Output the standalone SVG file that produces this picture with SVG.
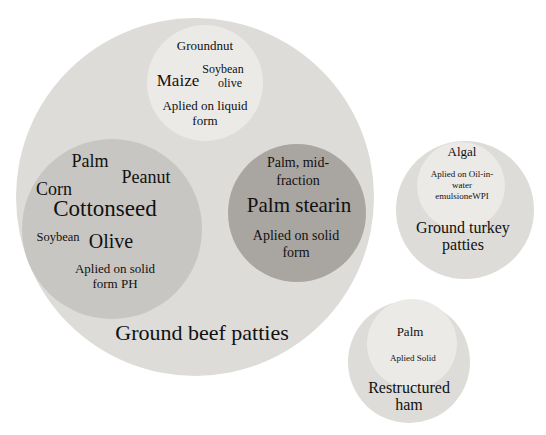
<svg xmlns="http://www.w3.org/2000/svg" width="546" height="435" viewBox="0 0 546 435">
<style>
text{font-family:"Liberation Serif","Times New Roman",serif;fill:#111;text-anchor:middle}
.outer{fill:#dddcd8}
.light{fill:#ebeae7}
.mid{fill:#c8c6c2}
.dark{fill:#a9a5a0}
</style>
<rect width="546" height="435" fill="#ffffff"/>
<g id="beef">
<circle class="outer" cx="195" cy="197" r="179"/>
<text x="202" y="340" font-size="22">Ground beef patties</text>
</g>
<g id="liquid">
<circle class="light" cx="205" cy="83" r="58"/>
<text x="205" y="50" font-size="13">Groundnut</text>
<text x="178" y="86" font-size="17">Maize</text>
<text x="223" y="73" font-size="12">Soybean</text>
<text x="230" y="87" font-size="12">olive</text>
<text x="205" y="110" font-size="13">Aplied on liquid</text>
<text x="205" y="125" font-size="13">form</text>
</g>
<g id="solidPH">
<circle class="mid" cx="112" cy="229" r="90"/>
<text x="90" y="167" font-size="18">Palm</text>
<text x="146" y="183" font-size="18">Peanut</text>
<text x="54" y="195" font-size="18">Corn</text>
<text x="105" y="216" font-size="23">Cottonseed</text>
<text x="58" y="241" font-size="12.5">Soybean</text>
<text x="111" y="248" font-size="20">Olive</text>
<text x="115" y="273" font-size="13">Aplied on solid</text>
<text x="115" y="288" font-size="13">form PH</text>
</g>
<g id="solid">
<circle class="dark" cx="297" cy="213" r="69"/>
<text x="298" y="167" font-size="14">Palm, mid-</text>
<text x="298" y="185" font-size="14">fraction</text>
<text x="299" y="212" font-size="21">Palm stearin</text>
<text x="296" y="240" font-size="14">Aplied on solid</text>
<text x="296" y="257" font-size="14">form</text>
</g>
<g id="turkey">
<circle class="outer" cx="465" cy="210" r="69"/>
<circle class="light" cx="461" cy="186" r="44"/>
<text x="462" y="156" font-size="13">Algal</text>
<text x="462" y="177" font-size="9">Aplied on Oil-in-</text>
<text x="462" y="188" font-size="9">water</text>
<text x="462" y="199" font-size="9">emulsioneWPI</text>
<text x="463" y="233" font-size="16">Ground turkey</text>
<text x="463" y="250" font-size="16">patties</text>
</g>
<g id="ham">
<circle class="outer" cx="409" cy="362" r="61"/>
<circle class="light" cx="412" cy="344" r="45"/>
<text x="410" y="336" font-size="13">Palm</text>
<text x="413" y="361" font-size="9">Aplied Solid</text>
<text x="409" y="393" font-size="16">Restructured</text>
<text x="409" y="410" font-size="16">ham</text>
</g>
<g id="connectors"/>
</svg>
